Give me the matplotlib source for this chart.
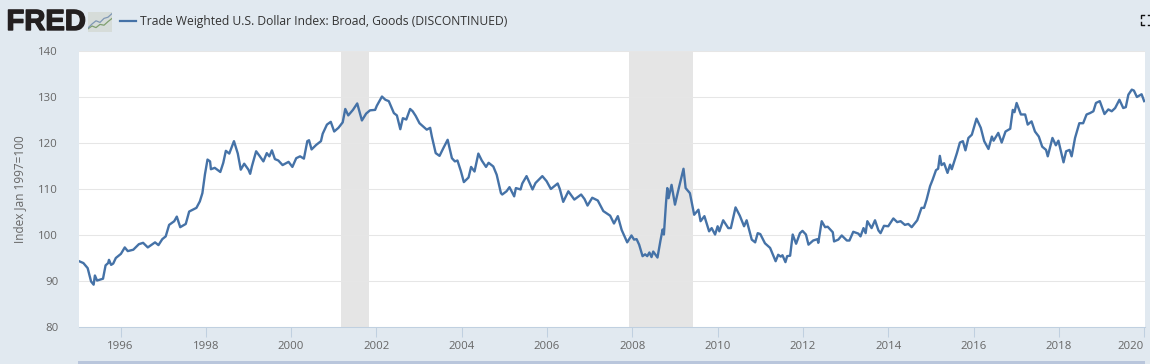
import matplotlib
matplotlib.use("Agg")
import matplotlib.pyplot as plt
import matplotlib.patheffects as pe
from matplotlib.lines import Line2D
from matplotlib.patches import Rectangle

title = "Trade Weighted U.S. Dollar Index: Broad, Goods (DISCONTINUED)"
ylabel = "Index Jan 1997=100"
y_ticks = [80, 90, 100, 110, 120, 130, 140]
x_ticks = [1996, 1998, 2000, 2002, 2004, 2006, 2008, 2010, 2012, 2014, 2016, 2018, 2020]
recessions = [(2001.17, 2001.83), (2007.93, 2009.42)]

years_a = [1995.03,1995.13,1995.23,1995.31,1995.37,1995.40,1995.45,1995.59,1995.65,1995.71,1995.73,1995.78,1995.83,1995.89,
           1996.01,1996.10,1996.17,1996.30,1996.43,1996.53,1996.64,1996.81,1996.89,1996.98,1997.06,1997.14,1997.26,1997.32,
           1997.40,1997.53,1997.61,1997.78,1997.86,1997.92,1997.98,1998.04,1998.10,1998.12,1998.21,1998.34,1998.41,1998.47,
           1998.55,1998.66,1998.75,1998.82,1998.90,1999.00,1999.04]
values_a = [94.3,93.9,92.8,89.9,89.2,91.2,90.1,90.5,93.4,93.9,94.6,93.5,93.8,95.0,
            95.9,97.3,96.5,96.8,98.0,98.3,97.3,98.4,97.8,99.1,99.7,102.2,103.0,104.0,
            101.7,102.4,105.1,105.9,107.3,109.1,113.2,116.4,116.0,114.3,114.6,113.7,115.7,118.3,
            117.7,120.4,117.7,114.2,115.5,114.2,113.3]

years_b = [1999.08,1999.18,1999.26,1999.35,1999.43,1999.49,1999.55,1999.62,1999.70,1999.80,1999.94,2000.03,2000.12,2000.21,
           2000.30,2000.38,2000.42,2000.48,2000.59,2000.70,2000.74,2000.84,2000.93,2001.01,2001.11,2001.21,2001.27,2001.34,
           2001.45,2001.55,2001.66,2001.76,2001.85,2001.97,2002.01,2002.13,2002.21,2002.29,2002.41,2002.48,2002.56,2002.62,
           2002.70,2002.79,2002.85,2002.92,2003.01,2003.12,2003.18,2003.26]
values_b = [114.9,118.2,117.2,116.0,117.8,117.1,118.4,116.5,116.2,115.2,115.9,114.8,116.7,117.1,
            116.6,120.4,120.6,118.6,119.6,120.4,122.0,124.0,124.6,122.5,123.3,124.5,127.4,126.0,
            127.2,128.6,124.9,126.4,127.1,127.2,128.1,130.1,129.4,129.1,126.5,126.0,123.0,125.4,
            125.1,127.4,126.9,125.9,124.3,123.4,122.9,123.3]

years_c = [2003.30,2003.39,2003.48,2003.57,2003.67,2003.77,2003.84,2003.90,2003.98,2004.05,2004.16,2004.22,2004.30,2004.39,
           2004.47,2004.57,2004.63,2004.74,2004.82,2004.92,2004.95,2005.05,2005.12,2005.23,2005.27,2005.38,2005.42,2005.52,
           2005.66,2005.73,2005.89,2005.99,2006.09,2006.25,2006.30,2006.38,2006.50,2006.64,2006.80,2006.88,2006.95,2007.06,
           2007.19,2007.32,2007.48,2007.57,2007.66,2007.75,2007.88,2007.98]
values_c = [121.4,117.8,117.2,118.9,120.7,116.7,116.0,116.2,113.9,111.5,112.5,114.8,113.8,117.7,
            116.2,114.8,115.7,114.9,113.1,109.1,108.8,109.5,110.4,108.4,110.2,109.9,111.2,112.8,
            109.9,111.3,112.8,111.7,110.0,111.2,110.0,107.2,109.5,107.7,108.8,107.8,106.4,108.1,
            107.5,105.2,104.2,102.5,104.1,101.1,98.4,99.9]

years_d = [2008.04,2008.10,2008.16,2008.24,2008.30,2008.35,2008.40,2008.45,2008.49,2008.59,2008.66,2008.71,2008.74,2008.79,
           2008.82,2008.85,2008.92,2009.00,2009.09,2009.20,2009.25,2009.35,2009.45,2009.55,2009.60,2009.69,2009.80,2009.86,
           2009.94,2010.00,2010.04,2010.13,2010.25,2010.31,2010.42,2010.52,2010.62,2010.68,2010.80,2010.88,2010.94,2011.00,
           2011.11,2011.23,2011.36,2011.42,2011.48,2011.52,2011.59,2011.63,2011.70,2011.76,2011.84,2011.93,2011.99,2012.07,
           2012.13,2012.24,2012.34]
values_d = [99.0,99.1,97.9,95.4,95.8,95.4,96.2,95.2,96.4,95.1,98.8,101.2,100.1,107.0,
            110.2,108.0,110.9,106.6,110.2,114.4,110.2,109.1,104.4,105.5,103.0,104.1,100.8,101.5,
            100.1,101.9,100.8,103.2,101.5,101.5,106.0,104.2,101.9,103.2,99.0,98.4,100.4,100.2,
            98.2,97.2,94.3,95.7,95.3,95.6,94.1,95.4,95.5,100.1,98.1,100.4,100.9,100.1,
            97.9,98.8,99.1]

years_e = [2012.36,2012.44,2012.52,2012.58,2012.70,2012.73,2012.83,2012.91,2013.03,2013.09,2013.18,2013.30,2013.35,2013.42,
           2013.47,2013.51,2013.61,2013.69,2013.77,2013.82,2013.90,2014.00,2014.12,2014.21,2014.29,2014.39,2014.47,2014.55,
           2014.68,2014.78,2014.84,2014.90,2014.98,2015.04,2015.12,2015.17,2015.21,2015.25,2015.31,2015.39,2015.45,2015.49,
           2015.61,2015.68,2015.75,2015.81,2015.88,2015.96]
values_e = [98.3,103.0,101.7,101.8,100.6,98.6,99.0,99.9,98.8,98.8,100.7,100.3,99.7,101.5,
            100.4,103.0,101.5,103.2,101.0,100.4,102.0,101.9,103.6,102.8,103.0,102.2,102.4,101.7,
            103.2,105.9,105.9,107.7,110.6,112.0,114.1,114.4,117.2,115.2,115.6,113.5,115.3,114.3,
            117.8,120.1,120.4,118.4,121.1,121.8]

years_f = [2016.07,2016.17,2016.25,2016.35,2016.43,2016.47,2016.58,2016.66,2016.75,2016.86,2016.92,2016.96,2017.01,2017.11,
           2017.21,2017.27,2017.36,2017.44,2017.53,2017.61,2017.70,2017.74,2017.85,2017.93,2017.99,2018.11,2018.17,2018.25,
           2018.30,2018.38,2018.48,2018.57,2018.65,2018.73,2018.81,2018.87,2018.96,2019.07,2019.16,2019.24,2019.32,2019.42,
           2019.51,2019.57,2019.63,2019.71,2019.76,2019.83,2019.94,2020.00]
values_f = [125.3,123.3,120.4,118.7,121.4,120.5,122.2,120.1,122.5,123.1,127.2,126.7,128.7,126.2,
            126.2,124.0,124.7,122.5,121.4,119.2,118.5,117.1,121.1,119.5,120.5,115.8,118.2,118.5,
            117.1,121.1,124.3,124.3,126.2,126.5,126.9,128.7,129.1,126.3,127.3,126.9,127.6,129.4,
            127.6,127.8,130.5,131.6,131.4,130.0,130.6,129.1]

icon_x = [0, 1, 2, 3, 4, 5, 6]
icon_green = [0.8, 1.5, 1.1, 1.9, 1.7, 2.6, 3.4]
icon_blue = [1.0, 2.0, 2.8, 2.4, 3.4, 3.7, 4.6]

W, H = 1150, 364
BG = "#e1e9f0"
BLUE = "#4572a7"
TICK = "#666666"
FONT = "Open Sans"

fig = plt.figure(figsize=(W / 100, H / 100), dpi=100, facecolor=BG)
ax = fig.add_axes([79 / W, 1 - 327 / H, (1145 - 79) / W, (327 - 51) / H], facecolor="white")

years = years_a + years_b + years_c + years_d + years_e + years_f
values = values_a + values_b + values_c + values_d + values_e + values_f

for start, end in recessions:
    ax.axvspan(start, end, color="#e5e5e5", lw=0, zorder=1)
ax.plot(years, values, color=BLUE, lw=1.7, solid_joinstyle="round", zorder=3)

ax.set_xlim(1995.027, 2020.02)
ax.set_ylim(80, 140)
ax.set_yticks(y_ticks)
ax.set_xticks(x_ticks)
ax.grid(axis="y", color="#e6e6e6", lw=0.75, zorder=2)
for name in ("top", "left", "right"):
    ax.spines[name].set_visible(False)
ax.spines["bottom"].set_color("#c0d0e0")
ax.spines["bottom"].set_linewidth(0.75)
ax.tick_params(axis="y", length=0, pad=15, labelsize=8.2, labelcolor=TICK)
ax.tick_params(axis="x", length=7, width=0.75, color="#c0d0e0", pad=3, labelsize=8.2, labelcolor=TICK)
for label in ax.get_xticklabels() + ax.get_yticklabels():
    label.set_fontfamily(FONT)
ax.get_xticklabels()[-1].set_ha("right")
ax.set_ylabel(ylabel, fontsize=8.5, color=TICK, family=FONT)
ax.yaxis.set_label_coords((26 - 79) / (1145 - 79), 0.5)

# Header
fig.text(6.5 / W, 1 - 22 / H, "FRED", family="Liberation Sans", weight="bold", fontsize=21,
         color="#231f20", va="center", ha="left",
         path_effects=[pe.withStroke(linewidth=1.0, foreground="#231f20")])
icon = fig.add_axes([88 / W, 1 - 32 / H, 24 / W, 20 / H], facecolor="#d6dcd9")
icon.plot(icon_x, icon_green, color="#7f9f6f", lw=0.9)
icon.plot(icon_x, icon_blue, color="#7f97b5", lw=0.9)
icon.set_xlim(0, 6)
icon.set_ylim(0, 5)
icon.set_xticks([])
icon.set_yticks([])
for spine in icon.spines.values():
    spine.set_visible(False)
fig.add_artist(Line2D([120 / W, 136 / W], [1 - 21 / H] * 2, color=BLUE, lw=1.6))
fig.text(140 / W, 1 - 21.5 / H, title, family=FONT, fontsize=8.7, color="#333333", va="center", ha="left")

# Fullscreen button
for xs, ys in [((1144, 1141, 1141), (14.5, 14.5, 18)), ((1141, 1141, 1144), (21.5, 25, 25)),
               ((1148, 1150), (14.5, 14.5)), ((1148, 1150), (25, 25))]:
    fig.add_artist(Line2D([x / W for x in xs], [1 - y / H for y in ys], color="#111111", lw=1))

# Navigator strip at the bottom
fig.add_artist(Rectangle((78 / W, 0), (1145 - 78) / W, 3 / H, transform=fig.transFigure, color="#b9c6dc", lw=0))

fig.savefig("out.png", dpi=100, facecolor=BG)
